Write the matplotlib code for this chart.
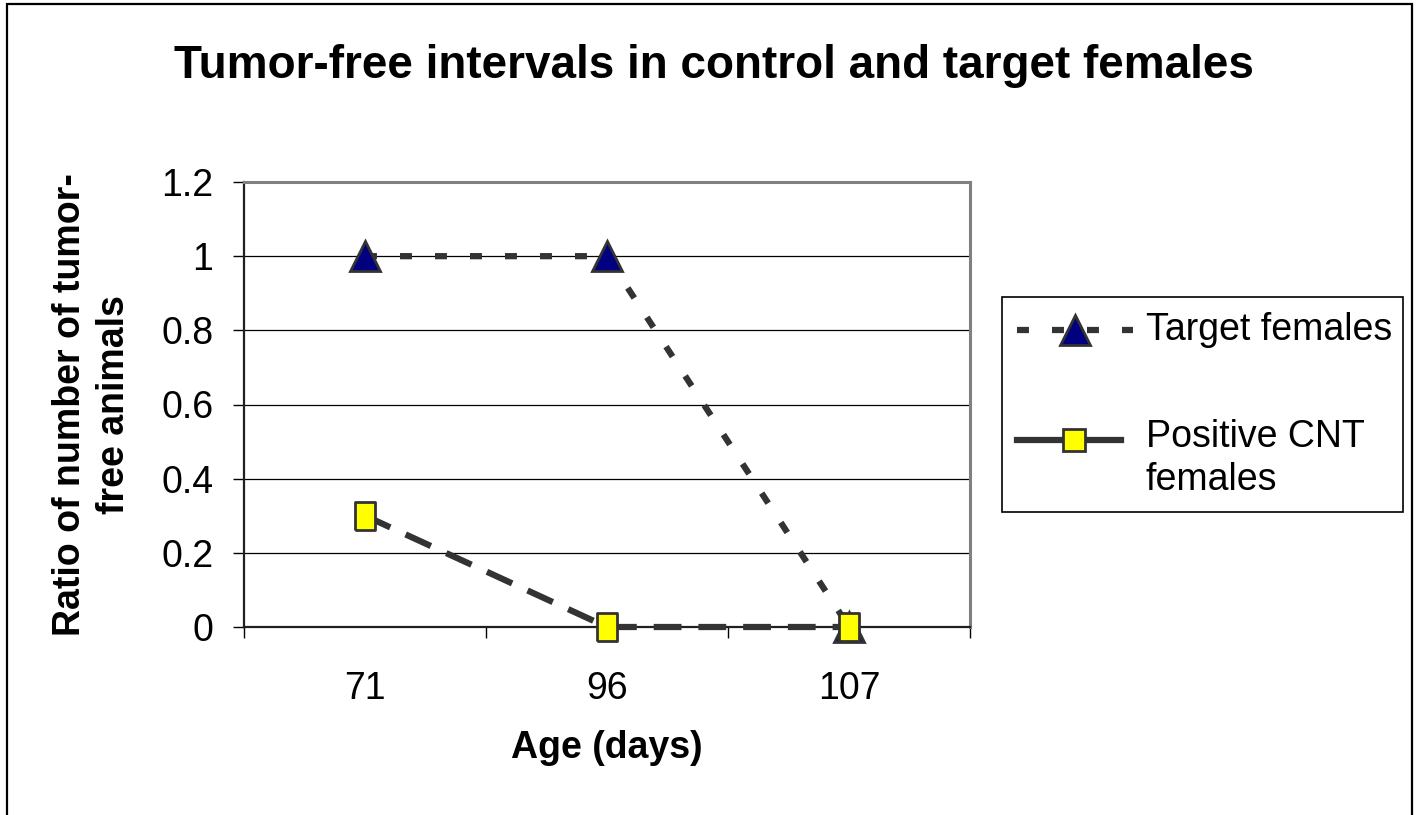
import matplotlib
matplotlib.use("Agg")
import matplotlib.pyplot as plt
from matplotlib.lines import Line2D
from matplotlib.patches import Rectangle

# data
ages = ["71", "96", "107"]
target_females = [1.0, 1.0, 0.0]
positive_cnt_females = [0.3, 0.0, 0.0]
y_ticks = [0, 0.2, 0.4, 0.6, 0.8, 1.0, 1.2]
y_tick_labels = ["0", "0.2", "0.4", "0.6", "0.8", "1", "1.2"]

plt.rcParams["font.family"] = ["Liberation Sans", "DejaVu Sans"]
plt.rcParams["lines.scale_dashes"] = False

W, H = 1420, 815
FS = 27
LINE = "#333333"
fig = plt.figure(figsize=(W / 100, H / 100), dpi=100)
fig.patch.set_facecolor("white")


def fx(px):
    return px / W


def fy(py):
    return 1 - py / H


# outer chart border (bottom runs off the picture)
fig.add_artist(Rectangle((fx(7), -0.05), fx(1412 - 7), (H - 4) / H + 0.05,
                         fill=False, edgecolor="black", lw=1.6,
                         transform=fig.transFigure))

ax = fig.add_axes([fx(244), fy(627), fx(970 - 244), (627 - 182) / H])
x = list(range(len(ages)))

ax.set_xlim(-0.5, len(ages) - 0.5)
ax.set_ylim(0, 1.2)

for yv in y_ticks[1:-1]:
    ax.axhline(yv, color="black", lw=0.9, zorder=1)

ax.plot(x, target_females, color=LINE, lw=4.5, dashes=(8.6, 16.6),
        marker="^", markersize=22, markerfacecolor="#000080",
        markeredgecolor=LINE, markeredgewidth=2, zorder=3, clip_on=False)

rect_marker = [(-0.7, -1), (0.7, -1), (0.7, 1), (-0.7, 1), (-0.7, -1)]
ax.plot(x, positive_cnt_females, color=LINE, lw=4.5, dashes=(20, 12.2),
        marker=rect_marker, markersize=20, markerfacecolor="#ffff00",
        markeredgecolor=LINE, markeredgewidth=2, zorder=4, clip_on=False)

ax.set_yticks(y_ticks)
ax.set_yticklabels(y_tick_labels)
ax.set_xticks(x)
ax.set_xticklabels(ages)
ax.set_xticks([i - 0.5 for i in range(len(ages) + 1)], minor=True)
ax.tick_params(axis="x", which="major", length=0, pad=32, labelsize=FS)
ax.tick_params(axis="x", which="minor", length=8, width=1, color="black")
ax.tick_params(axis="y", length=8, width=1, pad=14, labelsize=FS)

for side in ("top", "right"):
    ax.spines[side].set_color("#808080")
    ax.spines[side].set_linewidth(2.2)
for side in ("left", "bottom"):
    ax.spines[side].set_color("#202020")
    ax.spines[side].set_linewidth(1.6)

ax.set_xlabel("Age (days)", fontsize=FS, fontweight="bold")
ax.xaxis.label.set_va("center")
ax.xaxis.set_label_coords(0.5, (627 - 748) / (627 - 182))

fig.text(fx(92), fy(405), "Ratio of number of tumor-\nfree animals",
         rotation=90, ha="center", va="center", fontsize=FS,
         fontweight="bold", linespacing=1.3)

fig.text(fx(714), fy(66), "Tumor-free intervals in control and target females",
         ha="center", va="center", fontsize=33, fontweight="bold")

# legend, drawn by hand so the handles sit on the first text line
fig.add_artist(Rectangle((fx(1002), fy(512)), fx(1403 - 1002), (512 - 297) / H,
                         fill=False, edgecolor="black", lw=1.2,
                         transform=fig.transFigure))
fig.add_artist(Line2D([fx(1017), fx(1133)], [fy(330), fy(330)], color=LINE,
                      lw=4.5, dashes=(8.6, 16.6), transform=fig.transFigure))
fig.add_artist(Line2D([fx(1075)], [fy(330)], marker="^", markersize=22,
                      markerfacecolor="#000080", markeredgecolor=LINE,
                      markeredgewidth=2, transform=fig.transFigure))
fig.add_artist(Line2D([fx(1017), fx(1121)], [fy(440), fy(440)], color=LINE,
                      lw=4.5, transform=fig.transFigure))
fig.add_artist(Line2D([fx(1074)], [fy(440)], marker="s", markersize=16,
                      markerfacecolor="#ffff00", markeredgecolor=LINE,
                      markeredgewidth=2, transform=fig.transFigure))
fig.text(fx(1146), fy(330), "Target females", ha="left", va="center", fontsize=FS)
fig.text(fx(1146), fy(437), "Positive CNT", ha="left", va="center", fontsize=FS)
fig.text(fx(1146), fy(480), "females", ha="left", va="center", fontsize=FS)

fig.savefig("out.png", dpi=100)
